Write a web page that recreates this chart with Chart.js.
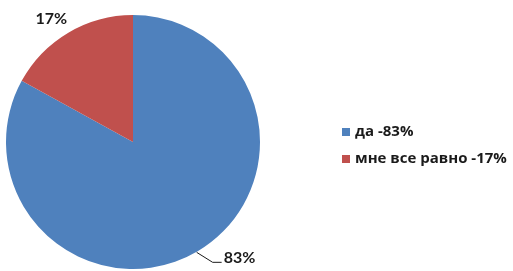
<!DOCTYPE html>
<html><head><meta charset="utf-8">
<script src="https://cdn.jsdelivr.net/npm/chart.js@4"></script>
<style>html,body{margin:0;padding:0;background:#fff;}#c{display:block;}</style>
</head><body>
<div style="width:513px;height:271px;"><canvas id="c" width="513" height="271"></canvas></div>
<script>
const categories = ['да', 'мне все равно'];
const values = [83, 17];
const dataLabels = ['83%', '17%'];
const legendLabels = ['да -83%', 'мне все равно -17%'];
const colors = ['#4F81BD', '#C0504D'];

const labelPlugin = {
  id: 'sliceLabels',
  afterDatasetsDraw(chart) {
    const ctx = chart.ctx;
    const meta = chart.getDatasetMeta(0);
    ctx.save();
    ctx.font = 'bold 16px Lato, "Open Sans", sans-serif';
    ctx.fillStyle = '#1a1a1a';
    ctx.textBaseline = 'middle';
    meta.data.forEach((arc, i) => {
      const p = arc.getProps(['x','y','startAngle','endAngle','outerRadius'], true);
      const mid = (p.startAngle + p.endAngle) / 2;
      const ex = p.x + Math.cos(mid) * p.outerRadius;
      const ey = p.y + Math.sin(mid) * p.outerRadius;
      if (Math.sin(mid) > 0) {
        ctx.strokeStyle = '#1a1a1a';
        ctx.lineWidth = 1;
        ctx.beginPath();
        ctx.moveTo(ex - 1, ey + 1);
        ctx.lineTo(ex + 15, ey + 11);
        ctx.lineTo(ex + 24, ey + 11);
        ctx.stroke();
        ctx.textAlign = 'left';
        ctx.fillText(dataLabels[i], ex + 26, ey + 7);
      } else {
        ctx.textAlign = 'center';
        ctx.fillText(dataLabels[i], ex - 17, ey - 14);
      }
    });
    ctx.font = 'bold 15px "Open Sans", sans-serif';
    ctx.textAlign = 'left';
    legendLabels.forEach((t, i) => {
      const y = 132 + i * 27;
      ctx.fillStyle = colors[i];
      ctx.fillRect(342, y - 4, 8, 8);
      ctx.fillStyle = '#1a1a1a';
      ctx.fillText(t, 355, y);
    });
    ctx.restore();
  }
};

new Chart(document.getElementById('c'), {
  type: 'pie',
  data: {
    labels: categories,
    datasets: [{ data: values, backgroundColor: colors, borderWidth: 0 }]
  },
  options: {
    responsive: false,
    animation: false,
    layout: { padding: { left: 6, top: 15, bottom: 2, right: 253 } },
    plugins: { legend: { display: false }, tooltip: { enabled: false } }
  },
  plugins: [labelPlugin]
});
</script>
</body></html>
